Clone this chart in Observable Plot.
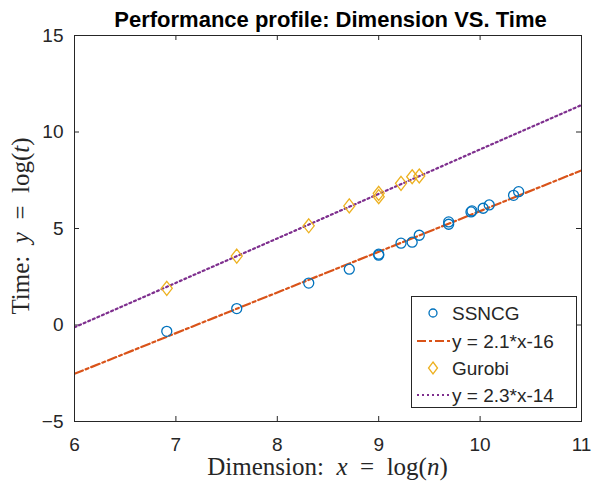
<!DOCTYPE html>
<html><head><meta charset="utf-8">
<script src="https://cdn.jsdelivr.net/npm/d3@7"></script>
<script src="https://cdn.jsdelivr.net/npm/@observablehq/plot@0.6"></script>
<style>html,body{margin:0;padding:0;background:#fff}#chart svg{display:block}</style>
</head><body><div id="chart"></div>
<script>
// ---- data ----
const ssncgX = [6.91, 7.60, 8.31, 8.71, 9.00, 9.00, 9.22, 9.33, 9.40, 9.69, 9.69, 9.91, 9.92, 10.03, 10.09, 10.33, 10.38];
const ssncgY = [-0.33, 0.85, 2.17, 2.89, 3.67, 3.62, 4.24, 4.29, 4.65, 5.34, 5.22, 5.86, 5.91, 6.05, 6.22, 6.72, 6.91];
const gurobiX = [6.91, 7.60, 8.31, 8.71, 9.00, 9.00, 9.22, 9.33, 9.40];
const gurobiY = [1.90, 3.57, 5.14, 6.17, 6.82, 6.65, 7.34, 7.68, 7.72];
const fitX = [6, 11];
const ssncgFitY = [-2.53, 8.01];
const gurobiFitY = [-0.12, 11.40];
const xTicks = [6, 7, 8, 9, 10, 11];
const yTicks = [-5, 0, 5, 10, 15];
const legendLabels = ["SSNCG", "y = 2.1*x-16", "Gurobi", "y = 2.3*x-14"];
const titleText = "Performance profile: Dimension VS. Time";

// ---- styles ----
const C_BLUE = "#0072BD", C_ORANGE = "#D95319", C_YELLOW = "#EDB120", C_PURPLE = "#7E2F8E", C_AX = "#262626";
const W = 593, H = 486, mL = 74, mR = 12, mT = 35, mB = 65;
const innerH = H - mT - mB, innerW = W - mL - mR;
const DASHDOT = "9,3,3,3", DOTTED = "2,3";
const SANS = "'Liberation Sans', Arial, Helvetica, sans-serif";
const SERIF = "'Liberation Serif', 'Times New Roman', serif";

const ssncg = ssncgX.map((x, i) => ({x, y: ssncgY[i]}));
const gurobi = gurobiX.map((x, i) => ({x, y: gurobiY[i]}));
const fitS = fitX.map((x, i) => ({x, y: ssncgFitY[i]}));
const fitG = fitX.map((x, i) => ({x, y: gurobiFitY[i]}));

const diamond = {draw(ctx, size) {
  const r = Math.sqrt(size / Math.PI), h = r * 1.4, w = r * 1.1;
  ctx.moveTo(0, -h); ctx.lineTo(w, 0); ctx.lineTo(0, h); ctx.lineTo(-w, 0); ctx.closePath();
}};

const plot = Plot.plot({
  width: W, height: H, marginLeft: mL, marginRight: mR, marginTop: mT, marginBottom: mB,
  style: {fontFamily: SANS, fontSize: "19px", color: C_AX, background: "#fff", overflow: "visible"},
  x: {domain: [6, 11]},
  y: {domain: [-5, 15]},
  marks: [
    Plot.axisX(xTicks, {anchor: "bottom", tickSize: 0, tickPadding: 16, label: null, fontSize: 19, fill: C_AX}),
    Plot.axisY(yTicks, {anchor: "left", tickSize: 0, tickPadding: 11, label: null, fontSize: 19, fill: C_AX}),
    // inward ticks on all four sides
    Plot.tickX(xTicks, {x: d => d, insetTop: innerH - 5, stroke: C_AX}),
    Plot.tickX(xTicks, {x: d => d, insetBottom: innerH - 5, stroke: C_AX}),
    Plot.tickY(yTicks, {y: d => d, insetRight: innerW - 5, stroke: C_AX}),
    Plot.tickY(yTicks, {y: d => d, insetLeft: innerW - 5, stroke: C_AX}),
    Plot.line(fitS, {x: "x", y: "y", stroke: C_ORANGE, strokeWidth: 2.2, strokeDasharray: DASHDOT, clip: true}),
    Plot.line(fitG, {x: "x", y: "y", stroke: C_PURPLE, strokeWidth: 2.2, strokeDasharray: DOTTED, clip: true}),
    Plot.dot(ssncg, {x: "x", y: "y", r: 5, stroke: C_BLUE, strokeWidth: 1.3, fill: "none"}),
    Plot.dot(gurobi, {x: "x", y: "y", r: 5, symbol: diamond, stroke: C_YELLOW, strokeWidth: 1.3, fill: "none"}),
    Plot.frame({stroke: C_AX, strokeWidth: 1})
  ]
});
document.getElementById("chart").appendChild(plot);

// ---- title, axis labels (mixed italic), legend ----
const svg = d3.select(plot);
svg.append("text").attr("x", mL + innerW / 2 + 3).attr("y", 27).attr("text-anchor", "middle")
  .attr("font-family", SANS).attr("font-weight", "bold").attr("font-size", 22)
  .attr("fill", "#000").text(titleText);

function mathLabel(sel, parts) {
  parts.forEach(([t, it]) => sel.append("tspan").attr("font-style", it ? "italic" : "normal").text(t));
}
const xl = svg.append("text").attr("x", mL + innerW / 2).attr("y", 475).attr("text-anchor", "middle")
  .attr("font-family", SERIF).attr("font-size", 25).attr("fill", C_AX)
  .attr("xml:space", "preserve");
mathLabel(xl, [["Dimension:  ", 0], ["x", 1], ["  =  log(", 0], ["n", 1], [")", 0]]);
const yl = svg.append("text").attr("transform", `translate(29,${mT + innerH / 2 - 2}) rotate(-90)`).attr("text-anchor", "middle")
  .attr("font-family", SERIF).attr("font-size", 25).attr("fill", C_AX)
  .attr("xml:space", "preserve");
mathLabel(yl, [["Time:  ", 0], ["y", 1], ["  =  log(", 0], ["t", 1], [")", 0]]);

const lg = svg.append("g").attr("font-family", SANS).attr("font-size", 19).attr("text-anchor", "start");
lg.append("rect").attr("x", 411.5).attr("y", 296.5).attr("width", 165).attr("height", 111).attr("fill", "#fff").attr("stroke", C_AX);
const rowsY = [313, 341, 368, 395];
lg.append("circle").attr("cx", 433).attr("cy", rowsY[0]).attr("r", 4).attr("fill", "none").attr("stroke", C_BLUE).attr("stroke-width", 1.3);
lg.append("line").attr("x1", 417).attr("x2", 450).attr("y1", rowsY[1]).attr("y2", rowsY[1]).attr("stroke", C_ORANGE).attr("stroke-width", 2.2).attr("stroke-dasharray", DASHDOT);
lg.append("path").attr("transform", `translate(433,${rowsY[2]})`).attr("d", "M0,-6L4.5,0L0,6L-4.5,0Z").attr("fill", "none").attr("stroke", C_YELLOW).attr("stroke-width", 1.3);
lg.append("line").attr("x1", 417).attr("x2", 450).attr("y1", rowsY[3]).attr("y2", rowsY[3]).attr("stroke", C_PURPLE).attr("stroke-width", 2.2).attr("stroke-dasharray", DOTTED);
legendLabels.forEach((t, i) => lg.append("text").attr("x", 452).attr("y", rowsY[i] + 7).attr("fill", C_AX).text(t));
</script>
</body></html>
